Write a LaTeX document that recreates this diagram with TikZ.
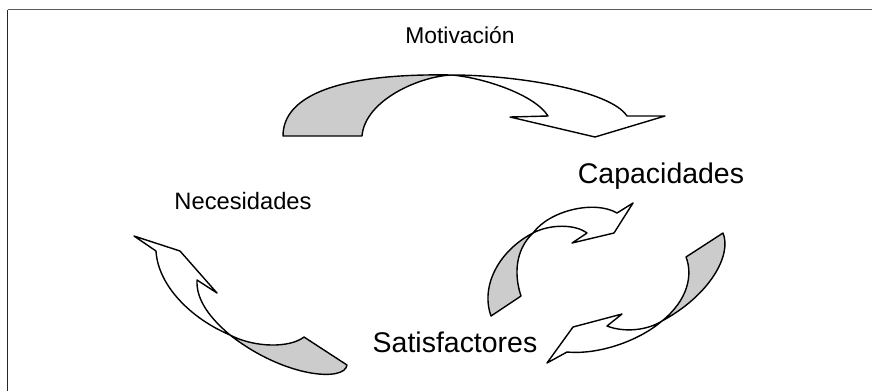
\documentclass[tikz,border=0pt]{standalone}
\usepackage{fontspec}
\setmainfont{Liberation Sans}
\usepackage{tikz}
\definecolor{ribbongray}{HTML}{CCCCCC}
\definecolor{framegray}{HTML}{5A5A5A}
\tikzset{
  ribbon/.style={draw=black, line width=0.8pt, line join=round},
  backface/.style={ribbon, fill=ribbongray},
  frontface/.style={ribbon, fill=white},
  smalllabel/.style={anchor=base, inner sep=0pt, font=\fontsize{13pt}{15pt}\selectfont},
  biglabel/.style={anchor=base, inner sep=0pt, font=\fontsize{16.2pt}{19pt}\selectfont}
}

\begin{document}
\begin{tikzpicture}[x=0.02cm, y=-0.02cm]
\useasboundingbox (0,0) rectangle (872,390);
% frame
\draw[framegray, line width=1.1pt] (7.5,9.5)--(880,9.5);
\draw[black!85, line width=1.1pt] (7.5,9.5)--(7.5,400);

% labels
\node[smalllabel] (motiv) at (460,43) {Motivación};
\node[smalllabel, font=\fontsize{13.5pt}{16pt}\selectfont] (neces) at (243,209) {Necesidades};
\node[biglabel] (capac) at (661,183) {Capacidades};
\node[biglabel] (satis) at (455,352) {Satisfactores};

% top arrow
\draw[backface] (283,136) .. controls (283,95) and (340,73) .. (452,75)
  .. controls (420,76) and (365,100) .. (362,136) -- cycle;
\draw[frontface] (452,75) .. controls (515,75) and (610,90) .. (627,116)
  -- (665,116) -- (595,137) -- (510,117) -- (548,116)
  .. controls (535,95) and (485,78) .. (452,75) -- cycle;

% left arrow
\draw[backface] (230,335) .. controls (255,348) and (290,348) .. (304,337)
  -- (347,365) .. controls (345,382) and (285,378) .. (230,335) -- cycle;
\draw[frontface] (230,335) .. controls (190,318) and (158,285) .. (156,251)
  -- (134,236) -- (180,251) -- (217,293) -- (197,280)
  .. controls (196,300) and (210,318) .. (230,335) -- cycle;

% right arrow, up
\draw[backface] (491,316) .. controls (480,285) and (500,250) .. (533,233)
  .. controls (515,250) and (514,275) .. (521,296) -- cycle;
\draw[frontface] (533,233) .. controls (550,210) and (595,200) .. (617,213)
  -- (633,203) -- (614,233) -- (572,243) -- (587,233)
  .. controls (575,224) and (550,224) .. (533,233) -- cycle;

% right arrow, down
\draw[backface] (723,233) .. controls (732,255) and (710,295) .. (662,321)
  .. controls (688,300) and (693,275) .. (686,257) -- cycle;
\draw[frontface] (662,321) .. controls (640,340) and (600,355) .. (567,352)
  -- (547,363) -- (573,327) -- (622,314) -- (607,326)
  .. controls (625,333) and (648,330) .. (662,321) -- cycle;
\end{tikzpicture}
\end{document}
